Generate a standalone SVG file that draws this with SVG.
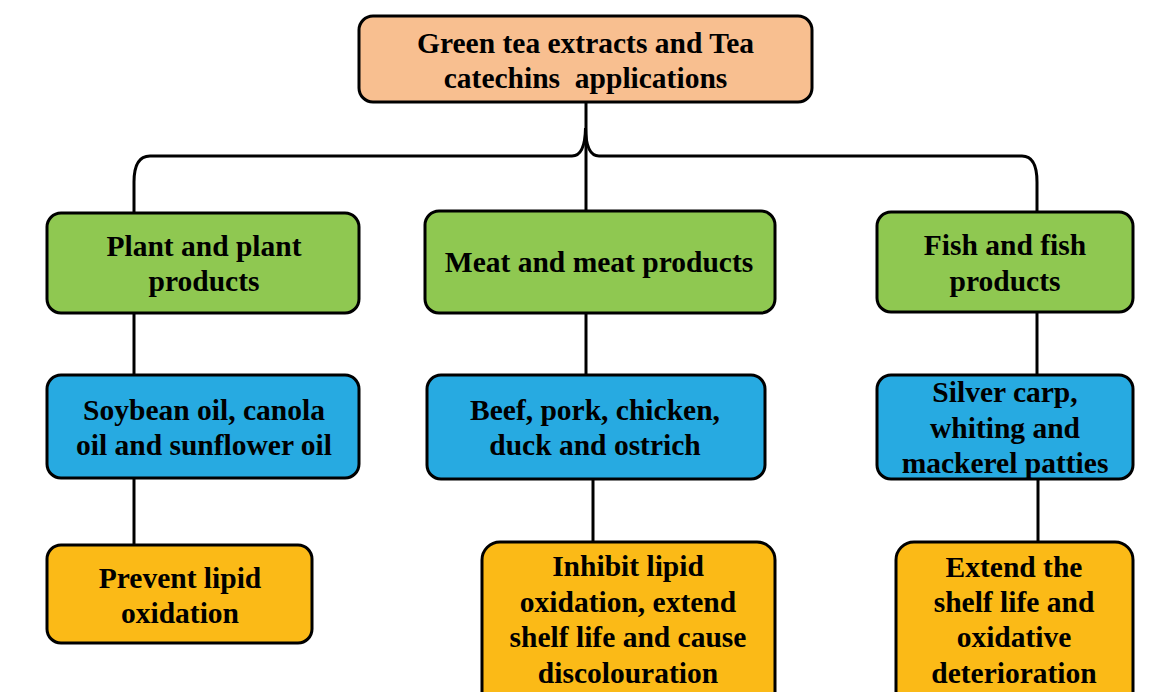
<svg xmlns="http://www.w3.org/2000/svg" width="1164" height="692" viewBox="0 0 1164 692">
<style>
.box{stroke:#000;stroke-width:3}
.peach{fill:#F8BF90}
.green{fill:#8FC851}
.blue{fill:#27AAE1}
.gold{fill:#FBBA17}
.t{font-family:"Liberation Serif","Times New Roman",serif;font-weight:bold;font-size:29.5px;fill:#000;text-anchor:middle;white-space:pre}
.c{fill:none;stroke:#000;stroke-width:3}
</style>
<rect width="1164" height="692" fill="#fff"/>
<g id="connectors">
<path class="c" d="M586 102 V211"/>
<path class="c" d="M134 213 V182 Q134 156 150 156 H572 Q585 156 585.5 128 Q586 156 599 156 H1022 Q1037 156 1037 182 V212"/>
<path class="c" d="M134 313 V375"/>
<path class="c" d="M134 478 V545"/>
<path class="c" d="M586 313 V375"/>
<path class="c" d="M593 479 V542"/>
<path class="c" d="M1037 312 V375"/>
<path class="c" d="M1038 479 V542"/>
</g>
<g id="root">
<rect class="box peach" x="359" y="16" width="453" height="86" rx="14"/>
<text class="t" x="585.5" y="53">Green tea extracts and Tea</text>
<text class="t" x="585.5" y="88" xml:space="preserve">catechins  applications</text>
</g>
<g id="plant">
<rect class="box green" x="47" y="213" width="312" height="100" rx="14"/>
<text class="t" x="204" y="256">Plant and plant</text>
<text class="t" x="204" y="291">products</text>
</g>
<g id="meat">
<rect class="box green" x="425" y="211" width="350" height="102" rx="14"/>
<text class="t" x="599" y="272">Meat and meat products</text>
</g>
<g id="fish">
<rect class="box green" x="877" y="212" width="256" height="100" rx="14"/>
<text class="t" x="1005" y="255">Fish and fish</text>
<text class="t" x="1005" y="291">products</text>
</g>
<g id="oils">
<rect class="box blue" x="47" y="375" width="312" height="103" rx="14"/>
<text class="t" x="204" y="420">Soybean oil, canola</text>
<text class="t" x="204" y="455">oil and sunflower oil</text>
</g>
<g id="meats">
<rect class="box blue" x="427" y="375" width="338" height="104" rx="14"/>
<text class="t" x="595" y="420">Beef, pork, chicken,</text>
<text class="t" x="595" y="455">duck and ostrich</text>
</g>
<g id="fishes">
<rect class="box blue" x="877" y="375" width="256" height="104" rx="14"/>
<text class="t" x="1005" y="402">Silver carp,</text>
<text class="t" x="1005" y="438">whiting and</text>
<text class="t" x="1005" y="473">mackerel patties</text>
</g>
<g id="prevent">
<rect class="box gold" x="47" y="545" width="265" height="98" rx="14"/>
<text class="t" x="180" y="588">Prevent lipid</text>
<text class="t" x="180" y="623">oxidation</text>
</g>
<g id="inhibit">
<rect class="box gold" x="482" y="542" width="293" height="170" rx="18"/>
<text class="t" x="628" y="576">Inhibit lipid</text>
<text class="t" x="628" y="612">oxidation, extend</text>
<text class="t" x="628" y="647">shelf life and cause</text>
<text class="t" x="628" y="683">discolouration</text>
</g>
<g id="extend">
<rect class="box gold" x="896" y="542" width="237" height="170" rx="18"/>
<text class="t" x="1014" y="577">Extend the</text>
<text class="t" x="1014" y="612">shelf life and</text>
<text class="t" x="1014" y="647">oxidative</text>
<text class="t" x="1014" y="683">deterioration</text>
</g>
</svg>
